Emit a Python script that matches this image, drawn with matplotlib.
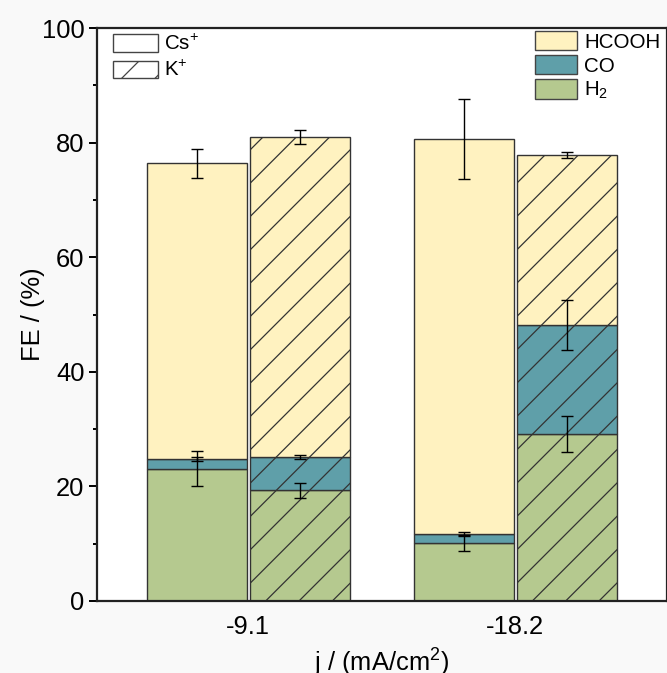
import numpy as np
import matplotlib
matplotlib.use('Agg')
import matplotlib.pyplot as plt
from matplotlib.patches import Patch

plt.rcParams['font.family'] = ['Liberation Sans', 'DejaVu Sans']
plt.rcParams['mathtext.fontset'] = 'custom'
plt.rcParams['mathtext.rm'] = 'Liberation Sans'
plt.rcParams['mathtext.it'] = 'Liberation Sans:italic'
plt.rcParams['hatch.linewidth'] = 0.45
plt.rcParams['hatch.color'] = '#333333'

categories = ['-9.1', '-18.2']

# Cs+ series (segment heights) and errors at each segment top
cs_h2 = [23.1, 10.1]
cs_co = [1.7, 1.6]
cs_hcooh = [51.6, 68.9]
cs_h2_err = [3.1, 1.4]
cs_co_err = [0.4, 0.3]
cs_hcooh_err = [2.5, 7.0]

# K+ series
k_h2 = [19.3, 29.1]
k_co = [5.9, 19.1]
k_hcooh = [55.8, 29.6]
k_h2_err = [1.3, 3.1]
k_co_err = [0.35, 4.4]
k_hcooh_err = [1.2, 0.5]

c_hcooh = '#fff2c0'
c_co = '#5f9fa9'
c_h2 = '#b5c98f'

fig = plt.figure(figsize=(667/200, 673/200), dpi=200, facecolor='#f9f9f9')
ax = fig.add_axes([97/667, 1-601/673, 1-97/667, (601-28)/673])
ax.set_facecolor('white')

x = np.arange(len(categories))
w = 0.375
off = 0.193

def stack(xpos, h2, co, hc, errs, hatch):
    h2 = np.array(h2); co = np.array(co); hc = np.array(hc)
    kw = dict(width=w, edgecolor='#333333', linewidth=0.5, hatch=hatch)
    ax.bar(xpos, h2, color=c_h2, **kw)
    ax.bar(xpos, co, bottom=h2, color=c_co, **kw)
    ax.bar(xpos, hc, bottom=h2+co, color=c_hcooh, **kw)
    tops = [h2, h2+co, h2+co+hc]
    for t, e in zip(tops, errs):
        ax.errorbar(xpos, t, yerr=e, fmt='none', ecolor='black',
                    elinewidth=0.5, capsize=2.2, capthick=0.5)

stack(x-off, cs_h2, cs_co, cs_hcooh, [cs_h2_err, cs_co_err, cs_hcooh_err], None)
stack(x+off, k_h2, k_co, k_hcooh, [k_h2_err, k_co_err, k_hcooh_err], '//')

ax.set_xlim(-0.566, 1.569)
ax.set_ylim(0, 100)
ax.set_xticks(x)
ax.set_xticklabels(categories)
ax.set_yticks([0, 20, 40, 60, 80, 100])
ax.set_yticks([10, 30, 50, 70, 90], minor=True)
ax.tick_params(axis='x', length=0, labelsize=9.2, pad=5)
ax.tick_params(axis='y', which='major', direction='out', length=3, width=0.7, labelsize=9.2, pad=1.5)
ax.tick_params(axis='y', which='minor', direction='out', length=1.6, width=0.7)
for s in ax.spines.values():
    s.set_linewidth(0.8)
    s.set_color('#222222')

ax.set_ylabel('FE / (%)', fontsize=9.2, labelpad=-1)
ax.set_xlabel('j / (mA/cm$^2$)', fontsize=9.2, labelpad=3)

h_ion = [Patch(facecolor='white', edgecolor='#444444', linewidth=0.5),
         Patch(facecolor='white', edgecolor='#444444', linewidth=0.5, hatch='//')]
leg1 = ax.legend(h_ion, ['Cs$^{+}$', 'K$^{+}$'], loc='upper left',
                 bbox_to_anchor=(0.028, 1 - 6/573), frameon=False, fontsize=7.4,
                 handlelength=2.2, handleheight=0.92, labelspacing=0.3,
                 handletextpad=0.3, borderpad=0, borderaxespad=0)
ax.add_artist(leg1)
h_prod = [Patch(facecolor=c_hcooh, edgecolor='#444444', linewidth=0.5),
          Patch(facecolor=c_co, edgecolor='#444444', linewidth=0.5),
          Patch(facecolor=c_h2, edgecolor='#444444', linewidth=0.5)]
ax.legend(h_prod, ['HCOOH', 'CO', 'H$_2$'], loc='upper right',
          bbox_to_anchor=(0.988, 1 - 3/573), frameon=False, fontsize=7.4,
          handlelength=2.05, handleheight=1.05, labelspacing=0.18,
          handletextpad=0.35, borderpad=0, borderaxespad=0)

fig.savefig('out.png', dpi=200, facecolor=fig.get_facecolor())
